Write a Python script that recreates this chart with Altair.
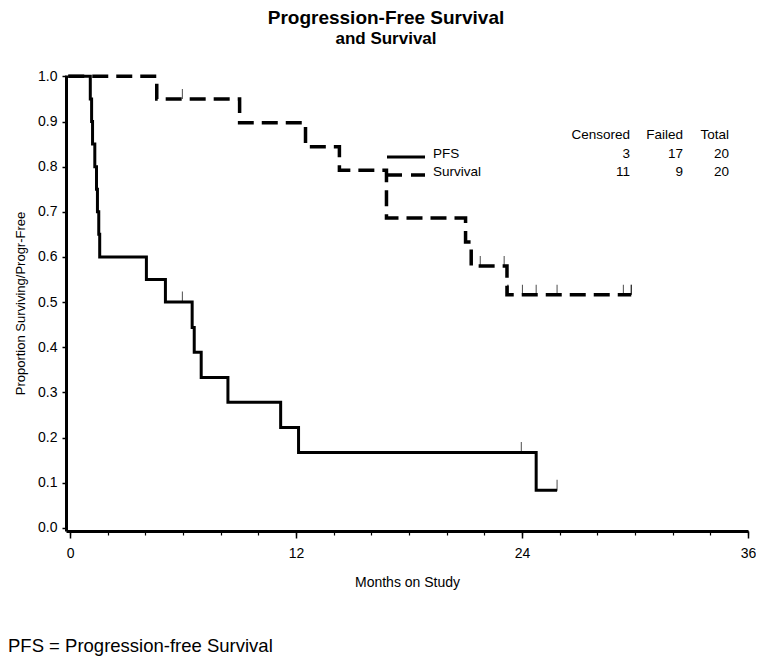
import altair as alt
import pandas as pd

# ---- data ----
pfs_time = [-0.1, 1.07, 1.14, 1.19, 1.31, 1.40, 1.45, 1.52, 1.57, 4.05, 5.06,
            6.48, 6.59, 6.96, 8.38, 11.18, 12.13, 24.75, 25.86]
pfs_surv = [1.0, 0.95, 0.90, 0.85, 0.80, 0.75, 0.70, 0.65, 0.60, 0.55, 0.50,
            0.444, 0.389, 0.333, 0.278, 0.222, 0.167, 0.083, 0.083]
pfs_cens_time = [5.96, 23.96, 25.86]
pfs_cens_surv = [0.50, 0.167, 0.083]

os_time = [-0.1, 4.6, 9.0, 12.5, 14.3, 16.8, 21.0, 21.3, 23.2, 29.8]
os_surv = [1.0, 0.95, 0.897, 0.844, 0.792, 0.686, 0.633, 0.580, 0.516, 0.516]
os_cens_time = [5.96, 21.78, 23.05, 23.25, 23.25, 24.02, 24.75, 25.86, 29.38, 29.8, 29.8]
os_cens_surv = [0.95, 0.580, 0.580, 0.516, 0.516, 0.516, 0.516, 0.516, 0.516, 0.516, 0.516]

groups = ["PFS", "Survival"]
censored = [3, 11]
failed = [17, 9]
total = [20, 20]

x_major = [0, 12, 24, 36]
x_minor = list(range(0, 37, 2))
y_ticks = [0.0, 0.1, 0.2, 0.3, 0.4, 0.5, 0.6, 0.7, 0.8, 0.9, 1.0]

FONT = "Liberation Sans"

pfs_df = pd.DataFrame({"t": pfs_time, "s": pfs_surv})
os_df = pd.DataFrame({"t": os_time, "s": os_surv})
pfs_c_df = pd.DataFrame({"t": pfs_cens_time, "s": pfs_cens_surv})
os_c_df = pd.DataFrame({"t": os_cens_time, "s": os_cens_surv})
one = pd.DataFrame({"k": [0]})

xscale = alt.Scale(domain=[-0.22, 36], nice=False, zero=False)
yscale = alt.Scale(domain=[-0.007, 1.003], nice=False, zero=False)

yaxis = alt.Axis(values=y_ticks, format=".1f", grid=False, labelFontSize=14,
                 labelColor="black", labelPadding=5, tickSize=4, tickWidth=1.5,
                 tickColor="black", domainWidth=3, domainColor="black",
                 labelFlush=False,
                 title="Proportion Surviving/Progr-Free", titleFontSize=13,
                 titleFontWeight="normal", titleColor="black", titleX=-46,
                 titleY=228, titleAngle=270, titleAlign="center",
                 titleBaseline="middle")
Y = alt.Y("s:Q", scale=yscale, axis=yaxis)

x_major_axis = alt.Axis(values=x_major, orient="bottom", grid=False, labelFontSize=14,
                        labelColor="black", labelPadding=8, tickSize=7, tickWidth=1.5,
                        tickColor="black", domainWidth=3, domainColor="black",
                        labelFlush=False,
                        title="Months on Study", titleFontSize=14,
                        titleFontWeight="normal", titleColor="black", titleX=341,
                        titleY=55, titleAlign="center", titleBaseline="alphabetic")
x_minor_axis = alt.Axis(values=x_minor, orient="bottom", grid=False, labels=False,
                        tickSize=4, tickWidth=1.2, tickColor="black", domain=False,
                        title=None)

pfs_line = alt.Chart(pfs_df).mark_line(
    interpolate="step-after", color="black", strokeWidth=3, strokeCap="butt"
).encode(x=alt.X("t:Q", scale=xscale, axis=x_major_axis), y=Y)

os_line = alt.Chart(os_df).mark_line(
    interpolate="step-after", color="black", strokeWidth=3.5, strokeCap="butt",
    strokeDash=[16, 8]
).encode(x=alt.X("t:Q", scale=xscale, axis=x_minor_axis), y=Y)

pfs_ticks = alt.Chart(pfs_c_df).mark_tick(
    orient="vertical", color="black", size=11, thickness=1, yOffset=-5
).encode(x=alt.X("t:Q", scale=xscale, axis=None), y=Y)

os_ticks = alt.Chart(os_c_df).mark_tick(
    orient="vertical", color="black", size=10, thickness=1, yOffset=-5
).encode(x=alt.X("t:Q", scale=xscale, axis=None), y=Y)


def txt(text, x, y, size=14, align="left", weight="normal", baseline="middle"):
    kw = dict(text=text, fontSize=size, align=align, fontWeight=weight,
              baseline=baseline, color="black", font=FONT)
    return alt.Chart(one).mark_text(**kw).encode(x=alt.value(x), y=alt.value(y))


layers = [pfs_line, os_line, pfs_ticks, os_ticks]

# titles
layers.append(txt("Progression-Free Survival", 320, -51, size=19, align="center",
                  weight="bold", baseline="alphabetic"))
layers.append(txt("and Survival", 320, -31, size=17, align="center",
                  weight="bold", baseline="alphabetic"))

# legend samples
layers.append(alt.Chart(one).mark_rule(color="black", strokeWidth=3, strokeCap="butt").encode(
    x=alt.value(321), x2=alt.value(359), y=alt.value(82)))
layers.append(alt.Chart(one).mark_rule(color="black", strokeWidth=3.5, strokeCap="butt",
                                       strokeDash=[14, 9]).encode(
    x=alt.value(322), x2=alt.value(359), y=alt.value(100)))

# legend table
row_y = [79, 97]
layers.append(txt("Censored", 564, 60, size=13.5, align="right"))
layers.append(txt("Failed", 617, 60, size=13.5, align="right"))
layers.append(txt("Total", 663, 60, size=13.5, align="right"))
for i, g in enumerate(groups):
    layers.append(txt(g, 367, row_y[i], size=13.5))
    layers.append(txt(str(censored[i]), 564, row_y[i], size=13.5, align="right"))
    layers.append(txt(str(failed[i]), 617, row_y[i], size=13.5, align="right"))
    layers.append(txt(str(total[i]), 663, row_y[i], size=13.5, align="right"))

# footnote
layers.append(txt("PFS = Progression-free Survival", -58, 577, size=18.5,
                  baseline="alphabetic"))

chart = alt.layer(*layers).resolve_axis(x="independent").properties(
    width=682, height=456,
    padding={"left": 58, "top": 67, "right": 8, "bottom": 125},
    autosize=alt.AutoSizeParams(type="none"),
).configure(font=FONT).configure_view(stroke=None)

chart.save("out.html", embed_options={"renderer": "svg", "actions": False})
